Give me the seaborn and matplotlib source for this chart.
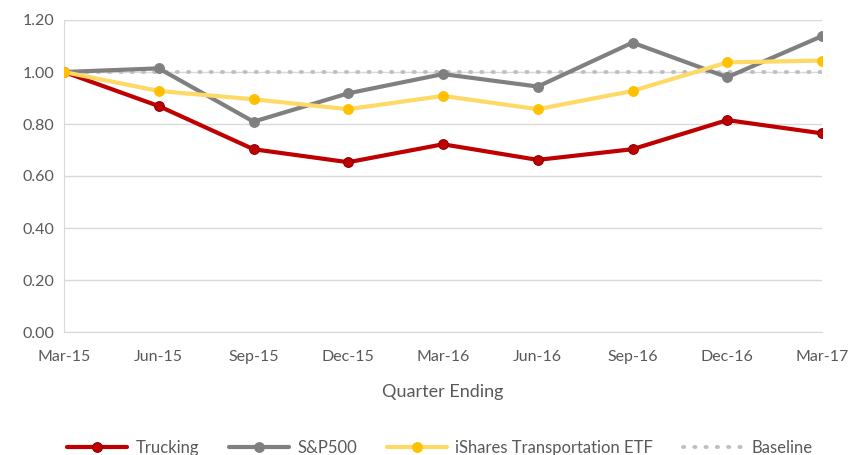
import numpy as np
import matplotlib.pyplot as plt
import pandas as pd
import seaborn as sns
from matplotlib.lines import Line2D

# values
quarters = ['Mar-15', 'Jun-15', 'Sep-15', 'Dec-15', 'Mar-16', 'Jun-16', 'Sep-16', 'Dec-16', 'Mar-17']
trucking = [1.00, 0.869, 0.703, 0.653, 0.722, 0.662, 0.703, 0.815, 0.764]
sp500 = [1.00, 1.014, 0.809, 0.918, 0.992, 0.944, 1.113, 0.980, 1.138]
ishares = [1.00, 0.927, 0.895, 0.857, 0.908, 0.857, 0.927, 1.037, 1.044]
baseline = [1.00] * len(quarters)

series_names = ['Trucking', 'S&P500', 'iShares Transportation ETF', 'Baseline']
line_colors = ['#C00000', '#808080', '#FFD966', '#BFBFBF']
marker_colors = ['#C00000', '#808080', '#FFC000', None]
edge_colors = ['#8B0000', '#808080', '#FFC000', None]

df = pd.DataFrame({'quarter': quarters, 'Trucking': trucking, 'S&P500': sp500,
                   'iShares Transportation ETF': ishares, 'Baseline': baseline})
long = df.melt(id_vars='quarter', var_name='series', value_name='value')

sns.set_style('white')
plt.rcParams['font.family'] = ['Lato', 'DejaVu Sans']
text_color = '#595959'

fig = plt.figure(figsize=(8.52, 4.55), dpi=100)
ax = fig.add_axes([64 / 852, 1 - 332 / 455, (822 - 64) / 852, (332 - 20) / 455])

# baseline first so it sits behind the others
sns.lineplot(data=long[long['series'] == 'Baseline'], x='quarter', y='value', ax=ax,
             color=line_colors[3], linewidth=2.8, linestyle=(0, (0.3, 2.6)),
             dash_capstyle='round', legend=False, zorder=2)
for name, lc, mc, ec in zip(series_names[:3], line_colors[:3], marker_colors[:3], edge_colors[:3]):
    sns.lineplot(data=long[long['series'] == name], x='quarter', y='value', ax=ax,
                 color=lc, linewidth=3.0, marker='o', markersize=7,
                 markerfacecolor=mc, markeredgecolor=ec, markeredgewidth=0.8,
                 legend=False, zorder=3)

ax.set_ylim(0, 1.2)
ax.set_yticks(np.arange(0, 1.21, 0.2))
ax.set_yticklabels([f'{v:.2f}' for v in np.arange(0, 1.21, 0.2)])
ax.set_xlim(0, len(quarters) - 1)
ax.set_xticks(range(len(quarters)))
ax.set_xticklabels(quarters)

ax.grid(axis='y', color='#D9D9D9', linewidth=1)
ax.set_axisbelow(True)
for s in ['top', 'right']:
    ax.spines[s].set_visible(False)
ax.spines['left'].set_color('#D9D9D9')
ax.spines['bottom'].set_color('#D9D9D9')
ax.tick_params(axis='x', direction='out', length=5, color='#D9D9D9', width=1,
               labelsize=11.5, labelcolor=text_color, pad=8)
ax.tick_params(axis='y', length=0, labelsize=11.5, labelcolor=text_color, pad=7)

ax.set_ylabel('')
ax.set_xlabel('Quarter Ending', fontsize=13, color=text_color, labelpad=14)

handles = []
for name, lc, mc, ec in zip(series_names[:3], line_colors[:3], marker_colors[:3], edge_colors[:3]):
    handles.append(Line2D([], [], color=lc, linewidth=3.0, marker='o', markersize=7,
                          markerfacecolor=mc, markeredgecolor=ec, markeredgewidth=0.8))
handles.append(Line2D([], [], color=line_colors[3], linewidth=2.8, linestyle=(0, (0.3, 2.6)),
                      dash_capstyle='round'))
leg = fig.legend(handles, series_names, loc='center', bbox_to_anchor=(440 / 852, 1 - 448 / 455),
                 ncol=4, frameon=False, fontsize=12, handlelength=3.6, handletextpad=0.5,
                 columnspacing=1.8)
for t in leg.get_texts():
    t.set_color(text_color)

fig.savefig('out.png', dpi=100)
